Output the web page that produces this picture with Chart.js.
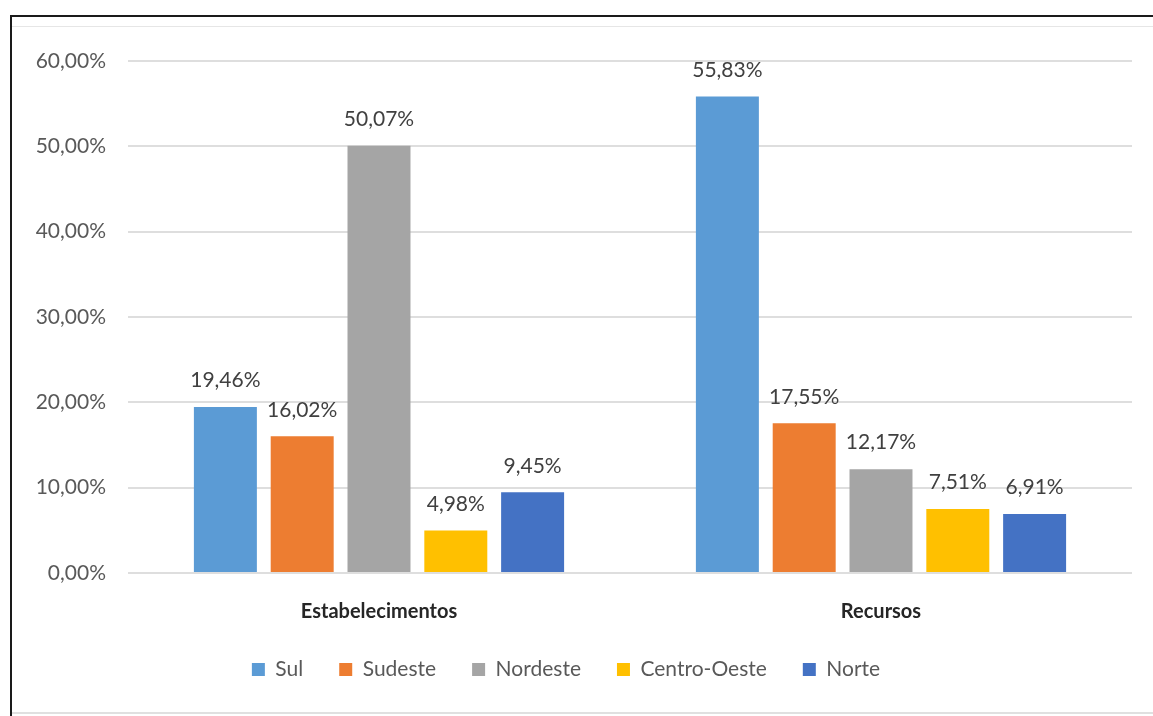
<!DOCTYPE html>
<html>
<head>
<meta charset="utf-8">
<script src="https://cdn.jsdelivr.net/npm/chart.js@4"></script>
<style>
  body { margin: 0; background: #fff; }
  #frame { position: absolute; left: 10px; top: 15px; width: 1143px; height: 701px;
           border-top: 2px solid #1a1a1a; border-left: 2px solid #1a1a1a; box-sizing: border-box; }
  #inner { position: absolute; left: 12px; top: 26px; width: 1141px; height: 688px;
           border-top: 1px solid #e6e6e6; border-bottom: 2px solid #e0e0e0; box-sizing: border-box; }
  #c { position: absolute; left: 0; top: 0; }
</style>
</head>
<body>
<div id="frame"></div>
<div id="inner"></div>
<canvas id="c" width="1153" height="716"></canvas>
<script>
const categories = ['Estabelecimentos', 'Recursos'];
const sul = [19.46, 55.83];
const sudeste = [16.02, 17.55];
const nordeste = [50.07, 12.17];
const centroOeste = [4.98, 7.51];
const norte = [9.45, 6.91];

const seriesNames = ['Sul', 'Sudeste', 'Nordeste', 'Centro-Oeste', 'Norte'];
const seriesValues = [sul, sudeste, nordeste, centroOeste, norte];
const colors = ['#5B9BD5', '#ED7D31', '#A5A5A5', '#FFC000', '#4472C4'];

function pct(v) {
  return v.toFixed(2).replace('.', ',') + '%';
}

// rótulos de valor acima das barras
const barLabels = {
  id: 'barLabels',
  afterDatasetsDraw(chart) {
    const ctx = chart.ctx;
    ctx.save();
    ctx.font = '21px Lato';
    ctx.fillStyle = '#404040';
    ctx.textAlign = 'center';
    ctx.textBaseline = 'bottom';
    chart.data.datasets.forEach(function(ds, i) {
      const meta = chart.getDatasetMeta(i);
      meta.data.forEach(function(bar, j) {
        ctx.fillText(pct(ds.data[j]), bar.x, bar.y - 16);
      });
    });
    ctx.restore();
  }
};

const datasets = [];
for (let i = 0; i < seriesNames.length; i++) {
  datasets.push({
    label: seriesNames[i],
    data: seriesValues[i],
    backgroundColor: colors[i],
    barPercentage: 0.82,
    categoryPercentage: 0.765
  });
}

new Chart(document.getElementById('c'), {
  type: 'bar',
  data: { labels: categories, datasets: datasets },
  plugins: [barLabels],
  options: {
    responsive: false,
    animation: false,
    layout: { padding: { left: 0, right: 21, top: 61, bottom: 26 } },
    plugins: {
      legend: {
        position: 'bottom',
        labels: {
          font: { family: 'Lato', size: 21 },
          color: '#595959',
          boxWidth: 13,
          boxHeight: 13,
          padding: 36
        }
      },
      tooltip: { enabled: false }
    },
    scales: {
      x: {
        afterFit: function(scale) { scale.height = 50; },
        grid: { display: false },
        border: { display: false },
        ticks: {
          font: { family: 'Lato', size: 20, weight: 'bold' },
          color: '#262626',
          padding: 19
        }
      },
      y: {
        min: 0,
        max: 60,
        afterFit: function(scale) { scale.width = 128; },
        border: { display: false },
        grid: { color: '#dedede', lineWidth: 2, drawTicks: false },
        ticks: {
          stepSize: 10,
          font: { family: 'Lato', size: 21 },
          color: '#595959',
          padding: 22,
          callback: function(v) { return pct(v); }
        }
      }
    }
  }
});
</script>
</body>
</html>
